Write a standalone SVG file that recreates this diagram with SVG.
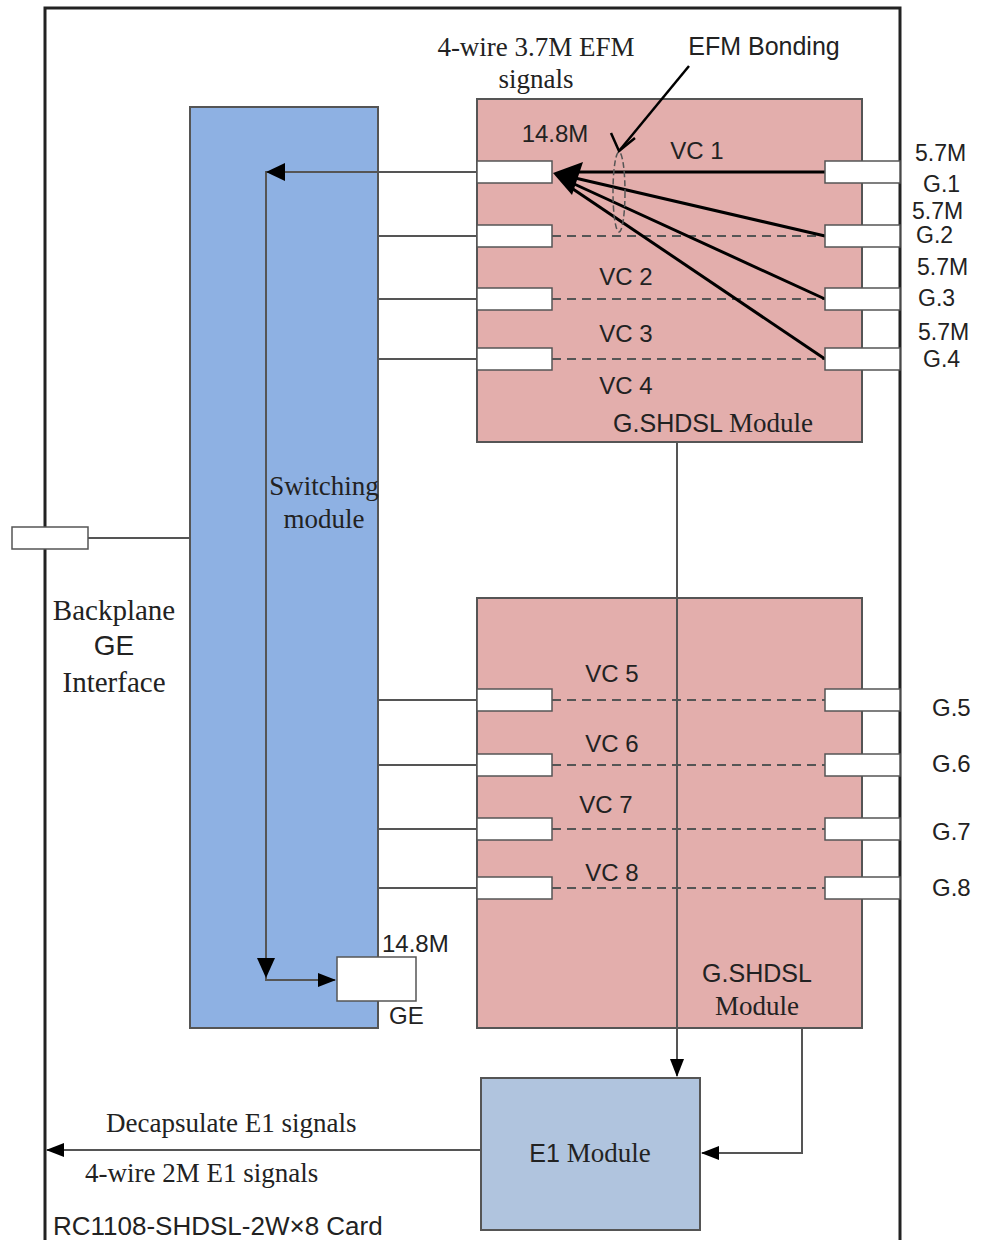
<svg xmlns="http://www.w3.org/2000/svg" width="981" height="1240" viewBox="0 0 981 1240">
<style>
.serif{font-family:"Liberation Serif","Times New Roman",serif;fill:#222}
.sans{font-family:"Liberation Sans",Arial,sans-serif;fill:#222}
.port{fill:#fff;stroke:#555;stroke-width:1.5}
.wire{stroke:#555;stroke-width:2;fill:none}
.dash{stroke:#555;stroke-width:2;stroke-dasharray:9,6;fill:none}
.thick{stroke:#000;stroke-width:3;fill:none}
.pink{fill:#E3AEAC;stroke:#555;stroke-width:2}
</style>
<defs>
<marker id="ahb" markerWidth="18" markerHeight="14" refX="17" refY="7" orient="auto" markerUnits="userSpaceOnUse" viewBox="0 0 18 14">
<path d="M0,0 L18,7 L0,14 z" fill="#000"/>
</marker>
</defs>
<rect width="981" height="1240" fill="#fff"/>
<g id="card">
<path d="M45,1245 L45,8 L900,8 L900,1245" fill="none" stroke="#222" stroke-width="3"/>
<text class="sans" x="53" y="1235" font-size="26">RC1108-SHDSL-2W×8 Card</text>
</g>
<g id="backplane-port">
<rect class="port" x="12" y="527" width="76" height="22"/>
<text class="serif" x="114" y="620" font-size="29" text-anchor="middle">Backplane</text>
<text class="sans" x="114" y="655" font-size="28" text-anchor="middle">GE</text>
<text class="serif" x="114" y="692" font-size="29" text-anchor="middle">Interface</text>
</g>
<g id="switching-module">
<rect x="190" y="107" width="188" height="921" fill="#8EB1E3" stroke="#555" stroke-width="2"/>
<text class="serif" x="324" y="495" font-size="27" text-anchor="middle">Switching</text>
<text class="serif" x="324" y="528" font-size="27" text-anchor="middle">module</text>
</g>
<g id="shdsl-upper">
<rect class="pink" x="477" y="99" width="385" height="343"/>
<text x="713" y="432" font-size="25" text-anchor="middle"><tspan class="sans">G.SHDSL </tspan><tspan class="serif" font-size="27">Module</tspan></text>
<text class="sans" x="555" y="142" font-size="24" text-anchor="middle">14.8M</text>
<text class="sans" x="697" y="159" font-size="24" text-anchor="middle">VC 1</text>
<text class="sans" x="626" y="285" font-size="24" text-anchor="middle">VC 2</text>
<text class="sans" x="626" y="342" font-size="24" text-anchor="middle">VC 3</text>
<text class="sans" x="626" y="394" font-size="24" text-anchor="middle">VC 4</text>
</g>
<g id="shdsl-lower">
<rect class="pink" x="477" y="598" width="385" height="430"/>
<text class="sans" x="612" y="682" font-size="24" text-anchor="middle">VC 5</text>
<text class="sans" x="612" y="752" font-size="24" text-anchor="middle">VC 6</text>
<text class="sans" x="606" y="813" font-size="24" text-anchor="middle">VC 7</text>
<text class="sans" x="612" y="881" font-size="24" text-anchor="middle">VC 8</text>
<text class="sans" x="757" y="982" font-size="25" text-anchor="middle">G.SHDSL</text>
<text class="serif" x="757" y="1015" font-size="27" text-anchor="middle">Module</text>
</g>
<g id="e1-module">
<rect x="481" y="1078" width="219" height="152" fill="#B0C4DE" stroke="#555" stroke-width="2"/>
<text x="590" y="1162" font-size="25" text-anchor="middle"><tspan class="sans">E1 </tspan><tspan class="serif" font-size="27">Module</tspan></text>
</g>
<g id="connectors">
<line class="wire" x1="88" y1="538" x2="190" y2="538"/>
<polyline class="wire" points="477,172 266,172 266,980 335,980" marker-end="url(#ahb)"/>
<path d="M266,172 L285,163 L285,181 z" fill="#000"/>
<path d="M266,978 L257,958 L275,958 z" fill="#000"/>
<line class="wire" x1="378" y1="236" x2="477" y2="236"/>
<line class="wire" x1="378" y1="299" x2="477" y2="299"/>
<line class="wire" x1="378" y1="359" x2="477" y2="359"/>
<line class="wire" x1="378" y1="700" x2="477" y2="700"/>
<line class="wire" x1="378" y1="765" x2="477" y2="765"/>
<line class="wire" x1="378" y1="829" x2="477" y2="829"/>
<line class="wire" x1="378" y1="888" x2="477" y2="888"/>
<line class="dash" x1="552" y1="236" x2="825" y2="236"/>
<line class="dash" x1="552" y1="299" x2="825" y2="299"/>
<line class="dash" x1="552" y1="359" x2="825" y2="359"/>
<line class="dash" x1="552" y1="700" x2="825" y2="700"/>
<line class="dash" x1="552" y1="765" x2="825" y2="765"/>
<line class="dash" x1="552" y1="829" x2="825" y2="829"/>
<line class="dash" x1="552" y1="888" x2="825" y2="888"/>
<line class="thick" x1="825" y1="172" x2="575" y2="172"/>
<line class="thick" x1="825" y1="236" x2="575" y2="178"/>
<line class="thick" x1="825" y1="299" x2="572" y2="183"/>
<line class="thick" x1="825" y1="359" x2="570" y2="187"/>
<path d="M553,173 L583,162 L572,195 z" fill="#000"/>
<ellipse cx="619" cy="192" rx="6" ry="40" fill="none" stroke="#555" stroke-width="1.5" stroke-dasharray="6,3"/>
<line x1="689" y1="66" x2="619" y2="151" stroke="#000" stroke-width="2.5"/>
<polyline points="611,133 619,151 635,138" fill="none" stroke="#000" stroke-width="2.5"/>
<line class="wire" x1="677" y1="442" x2="677" y2="1076" marker-end="url(#ahb)"/>
<polyline class="wire" points="802,1028 802,1153 702,1153" marker-end="url(#ahb)"/>
<line class="wire" x1="481" y1="1150" x2="47" y2="1150" marker-end="url(#ahb)"/>
</g>
<g id="ports">
<rect class="port" x="477" y="161" width="75" height="22"/>
<rect class="port" x="477" y="225" width="75" height="22"/>
<rect class="port" x="477" y="288" width="75" height="22"/>
<rect class="port" x="477" y="348" width="75" height="22"/>
<rect class="port" x="825" y="161" width="75" height="22"/>
<rect class="port" x="825" y="225" width="75" height="22"/>
<rect class="port" x="825" y="288" width="75" height="22"/>
<rect class="port" x="825" y="348" width="75" height="22"/>
<rect class="port" x="477" y="689" width="75" height="22"/>
<rect class="port" x="477" y="754" width="75" height="22"/>
<rect class="port" x="477" y="818" width="75" height="22"/>
<rect class="port" x="477" y="877" width="75" height="22"/>
<rect class="port" x="825" y="689" width="75" height="22"/>
<rect class="port" x="825" y="754" width="75" height="22"/>
<rect class="port" x="825" y="818" width="75" height="22"/>
<rect class="port" x="825" y="877" width="75" height="22"/>
<rect class="port" x="337" y="957" width="79" height="44"/>
</g>
<g id="labels">
<text class="serif" x="536" y="56" font-size="27" text-anchor="middle">4-wire 3.7M EFM</text>
<text class="serif" x="536" y="88" font-size="27" text-anchor="middle">signals</text>
<text class="sans" x="764" y="55" font-size="25" text-anchor="middle">EFM Bonding</text>
<text class="sans" x="915" y="161" font-size="23">5.7M</text>
<text class="sans" x="923" y="192" font-size="23">G.1</text>
<text class="sans" x="912" y="219" font-size="23">5.7M</text>
<text class="sans" x="916" y="243" font-size="23">G.2</text>
<text class="sans" x="917" y="275" font-size="23">5.7M</text>
<text class="sans" x="918" y="306" font-size="23">G.3</text>
<text class="sans" x="918" y="340" font-size="23">5.7M</text>
<text class="sans" x="923" y="367" font-size="23">G.4</text>
<text class="sans" x="932" y="716" font-size="24">G.5</text>
<text class="sans" x="932" y="772" font-size="24">G.6</text>
<text class="sans" x="932" y="840" font-size="24">G.7</text>
<text class="sans" x="932" y="896" font-size="24">G.8</text>
<text class="sans" x="382" y="952" font-size="24">14.8M</text>
<text class="sans" x="389" y="1024" font-size="24">GE</text>
<text class="serif" x="106" y="1132" font-size="27">Decapsulate E1 signals</text>
<text class="serif" x="85" y="1182" font-size="27">4-wire 2M E1 signals</text>
</g>
</svg>
